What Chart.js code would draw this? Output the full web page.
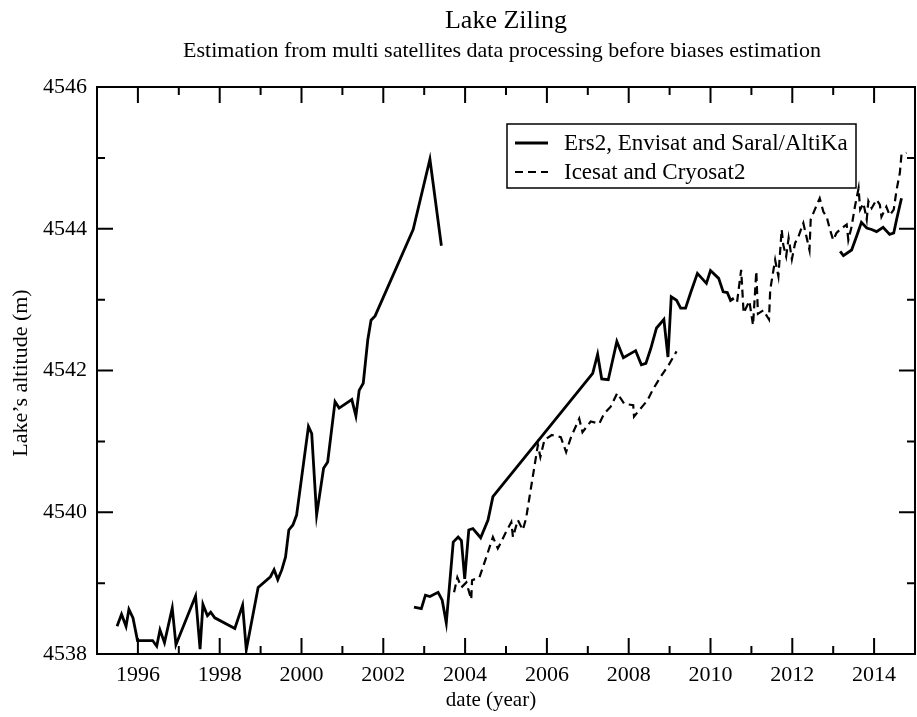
<!DOCTYPE html>
<html><head><meta charset="utf-8">
<script src="https://cdn.jsdelivr.net/npm/chart.js@4/dist/chart.umd.min.js"></script>
<style>html,body{margin:0;padding:0;background:#fff}canvas{display:block}</style>
</head><body>
<canvas id="c" width="917" height="717"></canvas>
<script>
const titleText = 'Lake Ziling';
const subtitleText = 'Estimation from multi satellites data processing before biases estimation';
const xAxisTitle = 'date (year)';
const yAxisTitle = 'Lake\u2019s altitude (m)';
const seriesNames = ['Ers2, Envisat and Saral/AltiKa', 'Icesat and Cryosat2'];

const xTicks = [1996, 1998, 2000, 2002, 2004, 2006, 2008, 2010, 2012, 2014];
const xMinorTicks = [1997, 1999, 2001, 2003, 2005, 2007, 2009, 2011, 2013];
const yTicks = [4538, 4540, 4542, 4544, 4546];
const yMinorTicks = [4539, 4541, 4543, 4545];

// Solid series (Ers2, Envisat and Saral/AltiKa) - three separate segments
const solidYearsA = [1995.49,1995.60,1995.71,1995.78,1995.88,1995.99,1996.36,1996.46,1996.54,1996.65,1996.84,1996.93,1997.41,1997.52,1997.59,1997.70,1997.78,1997.88,1998.37,1998.56,1998.65,1998.94,1999.24,1999.33,1999.42,1999.52,1999.61,1999.69,1999.79,1999.88,2000.17,2000.25,2000.37,2000.54,2000.64,2000.82,2000.92,2001.23,2001.33,2001.41,2001.51,2001.62,2001.70,2001.80,2002.73,2003.14,2003.42];
const solidAltA   = [4538.39,4538.56,4538.39,4538.63,4538.51,4538.19,4538.19,4538.11,4538.34,4538.16,4538.65,4538.13,4538.82,4538.07,4538.70,4538.54,4538.59,4538.51,4538.36,4538.69,4538.06,4538.94,4539.09,4539.19,4539.05,4539.19,4539.37,4539.75,4539.82,4539.96,4541.21,4541.11,4539.96,4540.62,4540.71,4541.56,4541.47,4541.59,4541.36,4541.72,4541.82,4542.43,4542.71,4542.77,4543.99,4544.98,4543.76];
const solidYearsB = [2002.75,2002.93,2003.03,2003.14,2003.34,2003.44,2003.54,2003.71,2003.83,2003.91,2003.99,2004.09,2004.19,2004.38,2004.56,2004.68,2007.12,2007.24,2007.34,2007.50,2007.71,2007.87,2008.17,2008.31,2008.42,2008.54,2008.68,2008.86,2008.96,2009.04,2009.17,2009.27,2009.39,2009.51,2009.68,2009.90,2010.00,2010.20,2010.31,2010.41,2010.49,2010.57];
const solidAltB   = [4538.66,4538.64,4538.83,4538.81,4538.87,4538.76,4538.44,4539.58,4539.65,4539.60,4539.06,4539.75,4539.77,4539.64,4539.89,4540.22,4541.96,4542.23,4541.88,4541.87,4542.41,4542.18,4542.28,4542.08,4542.10,4542.31,4542.60,4542.72,4542.19,4543.04,4542.99,4542.88,4542.88,4543.09,4543.37,4543.23,4543.41,4543.30,4543.11,4543.10,4542.99,4543.02];
const solidYearsC = [2013.17,2013.25,2013.45,2013.57,2013.69,2013.82,2013.94,2014.06,2014.22,2014.38,2014.48,2014.55,2014.67];
const solidAltC   = [4543.68,4543.62,4543.70,4543.89,4544.09,4544.01,4543.99,4543.96,4544.02,4543.92,4543.94,4544.13,4544.43];

// Dashed series (Icesat and Cryosat2) - two segments
const dashYearsA = [2003.73,2003.81,2003.91,2004.03,2004.15,2004.17,2004.35,2004.52,2004.68,2004.80,2004.88,2005.00,2005.13,2005.17,2005.29,2005.41,2005.49,2005.78,2005.84,2005.94,2006.12,2006.34,2006.47,2006.59,2006.79,2006.87,2007.07,2007.28,2007.40,2007.56,2007.72,2007.89,2008.11,2008.13,2008.33,2008.46,2008.59,2008.78,2008.98,2009.17];
const dashAltA   = [4538.87,4539.08,4538.94,4539.01,4538.77,4539.04,4539.08,4539.37,4539.65,4539.49,4539.58,4539.72,4539.86,4539.65,4539.89,4539.75,4539.91,4540.95,4540.78,4541.02,4541.09,4541.06,4540.85,4541.06,4541.32,4541.13,4541.28,4541.25,4541.39,4541.49,4541.68,4541.53,4541.51,4541.35,4541.49,4541.58,4541.73,4541.91,4542.08,4542.27];
const dashYearsB = [2010.65,2010.75,2010.81,2010.95,2011.04,2011.12,2011.16,2011.29,2011.43,2011.46,2011.58,2011.66,2011.74,2011.78,2011.85,2011.91,2011.99,2012.07,2012.15,2012.27,2012.42,2012.45,2012.55,2012.67,2012.76,2012.84,2012.92,2013.00,2013.08,2013.17,2013.33,2013.37,2013.45,2013.53,2013.62,2013.66,2013.74,2013.82,2013.86,2013.94,2014.06,2014.14,2014.18,2014.30,2014.38,2014.48,2014.55,2014.63,2014.67,2014.79];
const dashAltB   = [4542.97,4543.42,4542.81,4542.98,4542.64,4543.40,4542.80,4542.85,4542.72,4543.14,4543.56,4543.33,4543.99,4543.77,4543.61,4543.87,4543.57,4543.80,4543.89,4544.08,4543.70,4544.13,4544.27,4544.43,4544.24,4544.17,4543.99,4543.84,4543.94,4543.99,4544.06,4543.84,4544.03,4544.31,4544.57,4544.27,4544.36,4544.13,4544.39,4544.29,4544.41,4544.34,4544.17,4544.31,4544.19,4544.27,4544.55,4544.79,4545.05,4545.07];

function joinSegments(segs) {
  const out = [];
  segs.forEach((s, i) => {
    if (i > 0) out.push({x: s[0][0], y: null});
    s[0].forEach((x, k) => out.push({x: x, y: s[1][k]}));
  });
  return out;
}

const SERIF = '"Liberation Serif", "Times New Roman", serif';
const solidDash = [];
const dashedDash = [8, 5];

const decor = {
  id: 'decor',
  afterDraw(chart) {
    const ctx = chart.ctx;
    const a = chart.chartArea;
    const xs = chart.scales.x, ys = chart.scales.y;
    const cx = (a.left + a.right) / 2;
    ctx.save();
    ctx.strokeStyle = '#000';
    ctx.fillStyle = '#000';
    // frame
    ctx.lineWidth = 2;
    ctx.strokeRect(a.left, a.top, a.right - a.left, a.bottom - a.top);
    // ticks inside on all sides
    const MAJ = 16, MIN = 8;
    ctx.beginPath();
    xTicks.forEach(v => { const p = xs.getPixelForValue(v);
      ctx.moveTo(p, a.bottom); ctx.lineTo(p, a.bottom - MAJ);
      ctx.moveTo(p, a.top); ctx.lineTo(p, a.top + MAJ); });
    xMinorTicks.forEach(v => { const p = xs.getPixelForValue(v);
      ctx.moveTo(p, a.bottom); ctx.lineTo(p, a.bottom - MIN);
      ctx.moveTo(p, a.top); ctx.lineTo(p, a.top + MIN); });
    yTicks.forEach(v => { const p = ys.getPixelForValue(v);
      ctx.moveTo(a.left, p); ctx.lineTo(a.left + MAJ, p);
      ctx.moveTo(a.right, p); ctx.lineTo(a.right - MAJ, p); });
    yMinorTicks.forEach(v => { const p = ys.getPixelForValue(v);
      ctx.moveTo(a.left, p); ctx.lineTo(a.left + MIN, p);
      ctx.moveTo(a.right, p); ctx.lineTo(a.right - MIN, p); });
    ctx.stroke();

    // titles
    ctx.textAlign = 'center';
    ctx.textBaseline = 'alphabetic';
    ctx.font = '26px ' + SERIF;
    ctx.fillText(titleText, cx, 28);
    ctx.font = '22px ' + SERIF;
    ctx.fillText(subtitleText, cx - 4, 57);
    // axis titles
    ctx.textBaseline = 'middle';
    ctx.font = '21px ' + SERIF;
    ctx.fillText(xAxisTitle, 491, 700);
    ctx.save();
    ctx.translate(21, 373);
    ctx.rotate(-Math.PI / 2);
    ctx.font = '22px ' + SERIF;
    ctx.fillText(yAxisTitle, 0, 0);
    ctx.restore();

    // legend
    const lx = 507, ly = 124, lw = 349, lh = 64;
    ctx.fillStyle = '#fff';
    ctx.fillRect(lx, ly, lw, lh);
    ctx.lineWidth = 1.5;
    ctx.strokeStyle = '#000';
    ctx.strokeRect(lx, ly, lw, lh);
    ctx.fillStyle = '#000';
    ctx.textAlign = 'left';
    ctx.font = '23px ' + SERIF;
    chart.data.datasets.forEach((ds, i) => {
      const yy = ly + 19 + i * 29;
      ctx.save();
      ctx.lineWidth = ds.borderWidth;
      ctx.setLineDash(ds.borderDash || []);
      ctx.beginPath();
      ctx.moveTo(lx + 8, yy); ctx.lineTo(lx + 41, yy);
      ctx.stroke();
      ctx.restore();
      ctx.fillText(ds.label, lx + 57, yy + 1);
    });
    ctx.restore();
  }
};

new Chart(document.getElementById('c'), {
  type: 'line',
  data: {
    datasets: [
      { label: seriesNames[0],
        data: joinSegments([[solidYearsA, solidAltA], [solidYearsB, solidAltB], [solidYearsC, solidAltC]]),
        borderColor: '#000', borderWidth: 2.8, borderDash: solidDash, pointRadius: 0, tension: 0, spanGaps: false, fill: false },
      { label: seriesNames[1],
        data: joinSegments([[dashYearsA, dashAltA], [dashYearsB, dashAltB]]),
        borderColor: '#000', borderWidth: 2.2, borderDash: dashedDash, pointRadius: 0, tension: 0, spanGaps: false, fill: false }
    ]
  },
  options: {
    responsive: false,
    animation: false,
    devicePixelRatio: 1,
    layout: { padding: { top: 87, right: 2, bottom: 0, left: 0 } },
    plugins: { legend: { display: false }, title: { display: false }, tooltip: { enabled: false } },
    scales: {
      x: {
        type: 'linear', min: 1995, max: 2015,
        afterBuildTicks: s => { s.ticks = xTicks.map(v => ({ value: v })); },
        afterFit: s => { s.height = 63; },
        grid: { display: false, drawTicks: false },
        border: { display: false },
        ticks: { color: '#000', font: { family: SERIF, size: 22 }, padding: 8, maxRotation: 0, autoSkip: false,
                 callback: v => String(v) }
      },
      y: {
        type: 'linear', min: 4538, max: 4546,
        afterBuildTicks: s => { s.ticks = yTicks.map(v => ({ value: v })); },
        afterFit: s => { s.width = 97; },
        grid: { display: false, drawTicks: false },
        border: { display: false },
        ticks: { color: '#000', font: { family: SERIF, size: 22 }, padding: 10, autoSkip: false,
                 callback: v => String(v) }
      }
    }
  },
  plugins: [decor]
});
</script>
</body></html>
